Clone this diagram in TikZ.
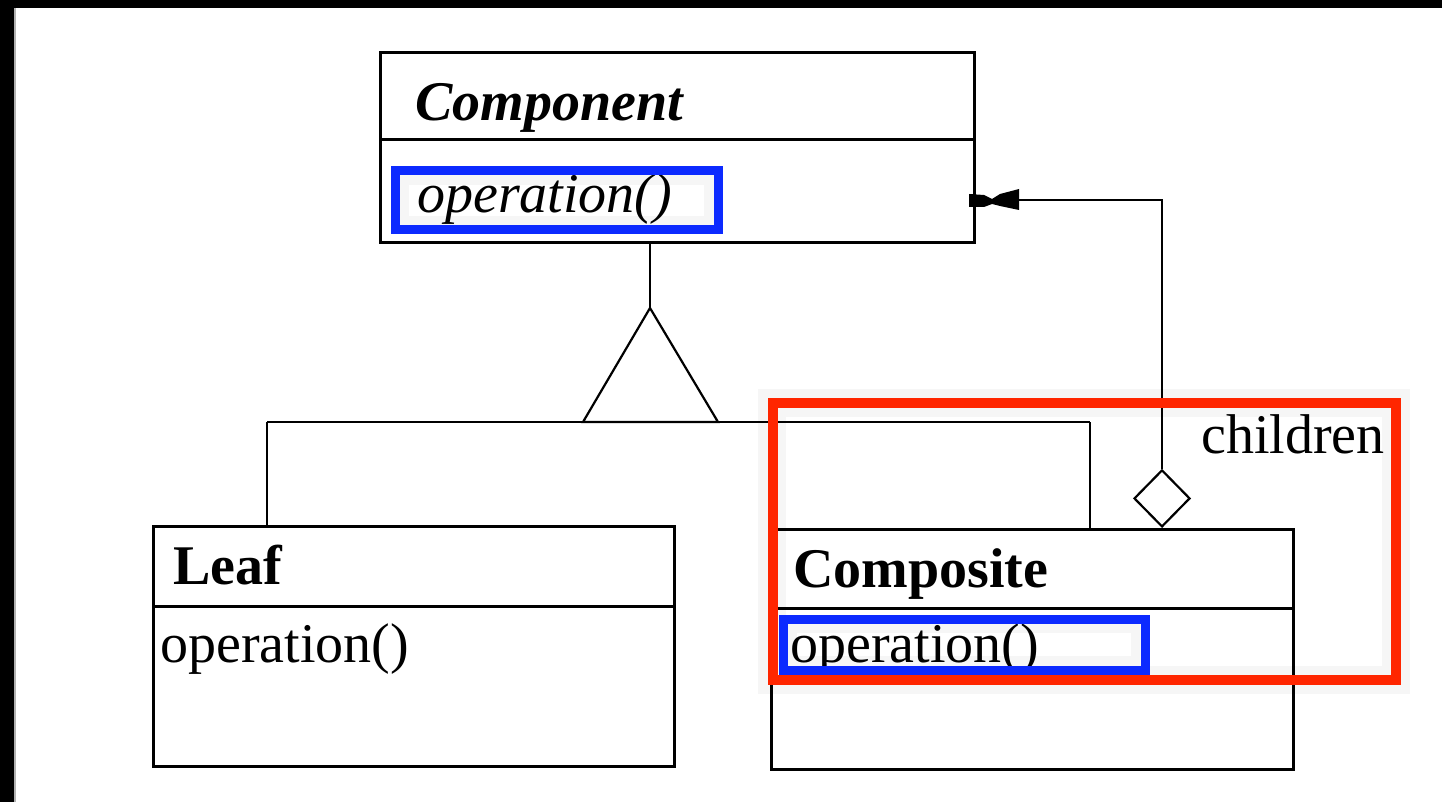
\documentclass[tikz,border=0pt]{standalone}
\usepackage{fontspec}
\setmainfont{Liberation Serif}
\usetikzlibrary{shapes.geometric}
\definecolor{hlblue}{RGB}{12,42,255}
\definecolor{hlred}{RGB}{255,38,0}
\tikzset{
  umlbox/.style={draw=black, line width=3pt, fill=white, inner sep=0pt, anchor=north west},
  divline/.style={line width=3pt},
  conn/.style={line width=2.8pt},
  thin conn/.style={line width=2.2pt},
  label text/.style={anchor=base west, inner sep=0pt, font=\fontsize{56}{60}\selectfont},
  blue hl/.style={draw=hlblue, line width=9pt},
  red hl/.style={draw=hlred, line width=10pt},
  glow/.style={draw=black, line width=2.5pt, opacity=0.035}
}
\begin{document}
\begin{tikzpicture}[x=1pt,y=-1pt]
\useasboundingbox (0,0) rectangle (1442,802);
\fill[white] (0,0) rectangle (1442,802);
% black frame on top and left
\fill[black] (0,0) rectangle (1442,8);
\fill[black] (0,0) rectangle (14,802);
\fill[black!30] (14,8) rectangle (15.5,802);

% class boxes
\node[umlbox, minimum width=594pt, minimum height=190pt] (comp) at (379,51) {};
\node[umlbox, minimum width=521pt, minimum height=240pt] (leaf) at (152,525) {};
\node[umlbox, minimum width=522pt, minimum height=240pt] (compo) at (770,528) {};

% dividers
\draw[divline] (comp.west |- 0,140) -- (comp.east |- 0,140);
\draw[divline] (leaf.west |- 0,606) -- (leaf.east |- 0,606);
\draw[divline] (compo.west |- 0,608) -- (compo.east |- 0,608);

% texts
\node[label text] (compname) at (415,121) {\bfseries\itshape Component};
\node[label text] (compop) at (417,213) {\itshape operation()};
\node[label text] (leafname) at (173,584) {\bfseries Leaf};
\node[label text] (leafop) at (160,662) {operation()};
\node[label text] (componame) at (793,587) {\bfseries Composite};
\node[label text] (compoop) at (790,662) {operation()};
\node[label text] (children) at (1201,453) {children};

% generalization
\coordinate (apex) at (650,308);
\coordinate (tl) at (583,422);
\coordinate (tr) at (718,422);
\coordinate (j1) at (267,422);
\coordinate (j2) at (1090,422);
\draw[conn] (apex |- comp.south) -- (apex);
\draw[thin conn, line join=miter] (apex) -- (tl) -- (tr) -- cycle;
\draw[conn] (j1) -- (j2);
\draw[conn] (j1) -- (j1 |- leaf.north);
\draw[conn] (j2) -- (j2 |- compo.north);

% aggregation
\node[draw, shape=diamond, line width=2.2pt, inner sep=0pt, minimum width=56pt, minimum height=57pt, fill=white, anchor=south] (dia) at (1162,528) {};
\coordinate (agg) at (973,200);
\draw[conn] (dia.north) |- (agg);
\fill[black] (969,194) -- (984,195) -- (992,199) -- (1000,194) -- (1019,189) -- (1019,210) -- (1000,206) -- (992,204) -- (984,207) -- (969,207) -- cycle;

% highlight glows
\foreach \d in {5,7,9,11,13}{
  \draw[glow] (395+\d,171+\d) rectangle (718-\d,230-\d);
  \draw[glow] (783+\d,619+\d) rectangle (1145-\d,670-\d);
  \draw[glow] (772-\d,403-\d) rectangle (1396+\d,680+\d);
  \draw[glow] (772+\d,403+\d) rectangle (1396-\d,680-\d);
}
% highlight boxes
\draw[blue hl] (395,171) rectangle (718,230);
\draw[blue hl] (783,619) rectangle (1145,670);
\draw[red hl] (772.5,403) rectangle (1395.5,680);
\end{tikzpicture}
\end{document}
